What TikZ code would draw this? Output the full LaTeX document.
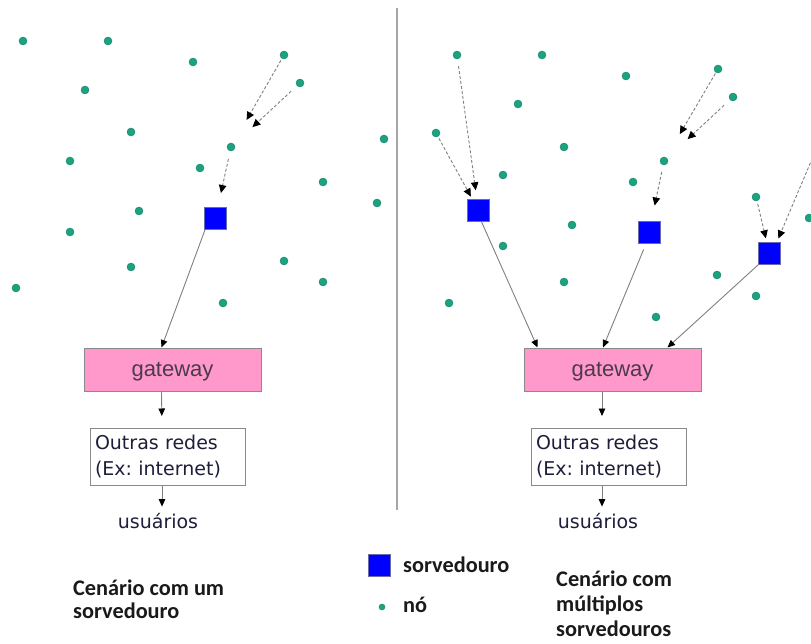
\documentclass[tikz,border=0pt]{standalone}
\usepackage{fontspec}
\newfontfamily\dvs{DejaVu Sans}
\newfontfamily\carl{Carlito}
\newfontfamily\libs{Liberation Sans}
\usetikzlibrary{arrows.meta,calc}
\definecolor{dotc}{HTML}{1AA37E}
\definecolor{dotd}{HTML}{13806A}
\definecolor{sinkd}{HTML}{6A6AB0}
\definecolor{lineg}{HTML}{808080}
\definecolor{gwpink}{HTML}{FF99CC}
\definecolor{gwd}{HTML}{8A8A8A}
\definecolor{gwtext}{HTML}{4A3A4A}
\definecolor{txtc}{HTML}{1E1E3A}
\definecolor{capc}{HTML}{1A1A1A}
\frenchspacing
\tikzset{
  dot/.style={circle,fill=dotc,draw=dotd,line width=0.4pt,inner sep=0pt,minimum size=8pt},
  sink/.style={rectangle,fill=blue,draw=sinkd,line width=0.6pt,inner sep=0pt,minimum size=22pt},
  flow/.style={draw=lineg,line width=0.9pt,dash pattern=on 3pt off 2pt,
     -{Triangle[length=8pt,width=7.5pt,color=black]}},
  link/.style={draw=lineg,line width=0.9pt,
     -{Triangle[length=7.5pt,width=6.5pt,color=black]}},
  gw/.style={rectangle,fill=gwpink,draw=gwd,line width=1pt,minimum width=177pt,
     minimum height=43pt,inner sep=0pt,text depth=1pt,
     font=\libs\fontsize{22}{24}\selectfont,text=gwtext},
  outbox/.style={rectangle,draw=gwd,line width=1pt,minimum width=155pt,
     minimum height=57pt,text width=145pt,align=left,inner sep=0pt,
     font=\dvs\fontsize{19}{26}\selectfont,text=txtc},
  users/.style={inner sep=0pt,font=\dvs\fontsize{19}{22}\selectfont,text=txtc},
  caption/.style={inner sep=0pt,anchor=base west,font=\carl\bfseries\fontsize{22.3}{24}\selectfont,text=capc},
  divider/.style={draw=gray!70,line width=1.6pt}
}
\begin{document}
\begin{tikzpicture}[x=1pt,y=-1pt]
\useasboundingbox[fill=white] (0,0) rectangle (811,644);

% divider
\draw[divider] (397,8) -- (397,510);

% ---------- left scenario: nodes ----------
\foreach \n/\x/\y in {1/23/41,2/108/41,3/193/62,4/284/55,5/300/83,6/85/90,7/131/132,
  8/231/147,9/70/161,10/200/168,11/384/139,12/323/182,13/139/211,14/377/203,
  15/70/232,16/284/261,17/131/267,18/323/282,19/16/288,20/223/303}
  \node[dot] (dL\n) at (\x,\y) {};
\node[sink] (sqL) at (215.5,218) {};
\node[gw] (gwL) at (172.5,369.5) {gateway};
\node[outbox] (boxL) at (167.5,457) {Outras redes\\(Ex: internet)};
\node[users,anchor=base] (usL) at (158,528) {usuários};

% ---------- right scenario: nodes ----------
\foreach \n/\x/\y in {1/457/55,2/542/55,3/626/76,4/718/69,5/733/97,6/518/104,7/436/133,
  8/564/147,9/664/161,10/503/175,11/633/182,12/756/197,13/572/225,14/809/218,
  15/503/246,16/717/275,17/564/282,18/449/303,19/756/296,20/656/317}
  \node[dot] (dR\n) at (\x,\y) {};
\node[sink] (sqR1) at (478.5,210.5) {};
\node[sink] (sqR2) at (649,232.5) {};
\node[sink] (sqR3) at (769.5,253.5) {};
\node[gw] (gwR) at (612.5,369.5) {gateway};
\node[outbox] (boxR) at (608.5,457) {Outras redes\\(Ex: internet)};
\node[users,anchor=base] (usR) at (598,528) {usuários};
\coordinate (edgeR) at (826,126);

% ---------- left connectors ----------
\draw[flow,shorten <=2pt,shorten >=27pt] (dL4) -- (dL8);
\draw[flow,shorten <=8pt,shorten >=25pt] (dL5) -- (dL8);
\draw[flow,shorten <=8pt,shorten >=14pt] (dL8) -- (sqL);
\draw[link] ([xshift=1pt]sqL.south west) -- ([xshift=-11pt]gwL.north);
\draw[link,shorten >=12pt] ([xshift=-11pt]gwL.south) -- ([xshift=-5.5pt]boxL.north);
\draw[link,shorten >=6pt] ([xshift=-5.5pt]boxL.south) -- ([xshift=4pt]usL.north);

% ---------- right connectors ----------
\draw[flow,shorten <=7pt,shorten >=9pt] (dR1) -- (sqR1);
\draw[flow,shorten <=2pt,shorten >=3pt] (dR7) -- (sqR1);
\draw[flow,shorten <=1pt,shorten >=27pt] (dR4) -- (dR9);
\draw[flow,shorten <=8pt,shorten >=28pt] (dR5) -- (dR9);
\draw[flow,shorten <=7pt,shorten >=16pt] (dR9) -- (sqR2);
\draw[flow,shorten <=3pt,shorten >=4pt] (dR12) -- (sqR3);
\draw[flow,shorten >=4pt] (edgeR) -- ([xshift=-4pt]sqR3.north east);
\draw[link] ([xshift=3pt]sqR1.south) -- ([xshift=-75pt]gwR.north);
\draw[link,shorten <=6pt] ([xshift=-3pt]sqR2.south) -- ([xshift=-9.5pt]gwR.north);
\draw[link] (sqR3.south west) -- ([xshift=55pt]gwR.north);
\draw[link,shorten >=12pt] ([xshift=-10.5pt]gwR.south) -- ([xshift=-6.5pt]boxR.north);
\draw[link,shorten >=6pt] ([xshift=-6.5pt]boxR.south) -- ([xshift=4pt]usR.north);

% ---------- legend ----------
\node[sink] (legS) at (379,565) {};
\node[caption] (legSt) at (403,572) {sorvedouro};
\node[dot,minimum size=6pt] (legD) at (382,607) {};
\node[caption] (legDt) at (403,612) {nó};

% ---------- captions ----------
\node[caption] (capL1) at (73,595) {Cenário com um};
\node[caption] (capL2) at (73,618) {sorvedouro};
\node[caption] (capR1) at (556,586) {Cenário com};
\node[caption] (capR2) at (556,611) {múltiplos};
\node[caption] (capR3) at (556,636) {sorvedouros};
\end{tikzpicture}
\end{document}
